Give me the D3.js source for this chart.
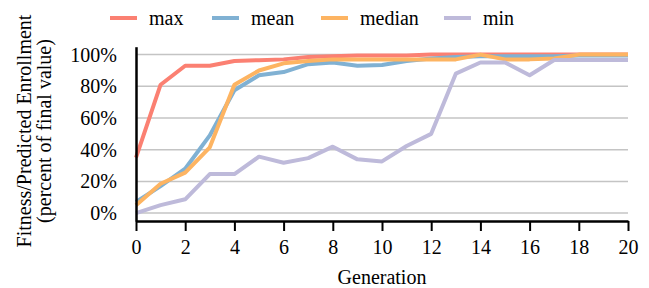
<!DOCTYPE html>
<html>
<head>
<meta charset="utf-8">
<script src="https://cdn.jsdelivr.net/npm/d3@7"></script>
<style>
  body { margin: 0; background: #fff; }
  svg text { font-family: "Liberation Serif", "Times New Roman", serif; }
</style>
</head>
<body>
<div id="canvas"></div>
<script>
const generations = d3.range(0, 21)
const maxVals    = [35, 81, 93, 93, 96, 96.5, 97, 98.5, 99, 99.5, 99.5, 99.5, 100, 100, 100, 100, 100, 100, 100, 100, 100]
const meanVals   = [7, 17, 28, 49, 77.5, 87, 89, 94, 95, 93, 93.5, 96, 97.5, 98.5, 99, 99, 99, 99, 99.5, 99.5, 99.5]
const medianVals = [5, 18.5, 25.5, 41.5, 81, 90, 94.5, 96, 97, 97, 97, 97, 97, 97, 100, 97, 97, 97.5, 100, 100, 100]
const minVals    = [0, 5, 8.7, 24.6, 24.6, 35.6, 31.8, 34.7, 41.9, 33.9, 32.6, 42.3, 50, 88, 95, 95, 87, 96.6, 96.6, 96.6, 96.6]
const seriesNames = ['max', 'mean', 'median', 'min']
const seriesColors = ['#fb8072', '#80b1d3', '#fdb462', '#bebada']
const yTicks = [0, 20, 40, 60, 80, 100]
const xTicks = [0, 2, 4, 6, 8, 10, 12, 14, 16, 18, 20]

const series = [maxVals, meanVals, medianVals, minVals]

let svg = d3.select("#canvas").append("svg")
    .attr("width", 649)
    .attr("height", 288)

let x = d3.scaleLinear().domain([0, 20]).range([136, 628])
let y = d3.scaleLinear().domain([-5, 105]).range([221, 46.7])

// grid
svg.selectAll("grid")
    .data(yTicks)
    .enter().append("line")
    .attr("x1", x(0)).attr("x2", x(20))
    .attr("y1", d => y(d)).attr("y2", d => y(d))
    .attr("stroke", "#c4c4c4")
    .attr("stroke-width", 1.5)

// lines
let line = d3.line()
    .x((d, i) => x(generations[i]))
    .y(d => y(d))

svg.selectAll("series")
    .data(series)
    .enter().append("path")
    .attr("d", d => line(d))
    .attr("fill", "none")
    .attr("stroke", (d, i) => seriesColors[i])
    .attr("stroke-width", 4)
    .attr("stroke-linejoin", "round")

// x axis
let xAxis = svg.append("g")
    .attr("transform", "translate(0," + y(-5) + ")")
    .call(d3.axisBottom(x).tickValues(xTicks).tickSize(10).tickSizeOuter(0).tickPadding(9))
xAxis.select(".domain").attr("stroke", "black").attr("stroke-width", 2.5)
xAxis.selectAll(".tick line").attr("stroke", "black").attr("stroke-width", 2)
xAxis.selectAll("text").attr("font-size", 20).attr("fill", "black")
    .attr("font-family", "Liberation Serif")

// y axis
let yAxis = svg.append("g")
    .attr("transform", "translate(" + x(0) + ",0)")
    .call(d3.axisLeft(y).tickValues(yTicks).tickSize(0).tickSizeOuter(0).tickPadding(19)
        .tickFormat(d => d + "%"))
yAxis.select(".domain").attr("stroke", "black").attr("stroke-width", 2.5)
yAxis.selectAll("text").attr("font-size", 20).attr("fill", "black")
    .attr("font-family", "Liberation Serif")

// axis titles
svg.append("text")
    .attr("x", (x(0) + x(20)) / 2).attr("y", 284)
    .attr("text-anchor", "middle")
    .attr("font-size", 20)
    .text("Generation")

let ylab = svg.append("text")
    .attr("transform", "translate(0,131) rotate(-90)")
    .attr("text-anchor", "middle")
    .attr("font-size", 20)
ylab.append("tspan").attr("x", 0).attr("y", 31).text("Fitness/Predicted Enrollment")
ylab.append("tspan").attr("x", 0).attr("y", 51).text("(percent of final value)")

// legend
const legendX = [110, 212, 321, 444]
let legend = svg.selectAll("legend")
    .data(seriesNames)
    .enter().append("g")
    .attr("transform", (d, i) => "translate(" + legendX[i] + ",18)")
legend.append("line")
    .attr("x1", 0).attr("x2", 27)
    .attr("y1", 0).attr("y2", 0)
    .attr("stroke", (d, i) => seriesColors[i])
    .attr("stroke-width", 4)
legend.append("text")
    .attr("x", 39).attr("y", 7)
    .attr("font-size", 20)
    .text(d => d)
</script>
</body>
</html>
